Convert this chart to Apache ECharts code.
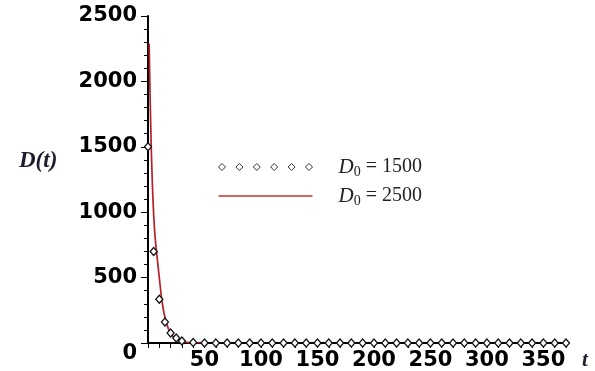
<!DOCTYPE html>
<html>
<head>
<meta charset="utf-8">
<script src="https://cdn.jsdelivr.net/npm/echarts@6/dist/echarts.min.js"></script>
<style>
  html, body { margin: 0; padding: 0; background: #fff; }
  #main { width: 595px; height: 371px; }
</style>
</head>
<body>
<div id="main"></div>
<script>
// D0 = 1500, point plot (diamonds)
var t1500 = [0, 5, 10, 15, 20, 25, 30, 40, 50, 60, 70, 80, 90, 100, 110, 120, 130, 140, 150, 160,
             170, 180, 190, 200, 210, 220, 230, 240, 250, 260, 270, 280, 290, 300, 310, 320, 330,
             340, 350, 360, 370];
var d1500 = [1500, 700, 335, 160, 76, 38, 15, 3, 0, 0, 0, 0, 0, 0, 0, 0, 0, 0, 0, 0,
             0, 0, 0, 0, 0, 0, 0, 0, 0, 0, 0, 0, 0, 0, 0, 0, 0,
             0, 0, 0, 0];

// D0 = 2500, line
var t2500 = [1, 2, 3, 4, 5, 6, 7, 8, 10, 12, 14, 16, 18, 20, 22, 25, 30, 35, 40, 50];
var d2500 = [2290, 1820, 1450, 1180, 980, 840, 740, 660, 500, 340, 235, 160, 110, 75, 52, 30, 12, 5, 2, 0];

var yTicks = [0, 500, 1000, 1500, 2000, 2500];

function pairs(xs, ys) {
    var out = [];
    for (var i = 0; i < xs.length; i++) {
        out.push([xs[i], ys[i]]);
    }
    return out;
}

var labelFont = {
    fontFamily: 'DejaVu Sans',
    fontWeight: 'bold',
    fontSize: 21,
    color: '#000'
};

// six small diamonds for the point-series legend icon
var diamondsIcon = 'path://' +
    'M0,3.5L3.5,0L7,3.5L3.5,7Z' +
    'M17.4,3.5L20.9,0L24.4,3.5L20.9,7Z' +
    'M34.8,3.5L38.3,0L41.8,3.5L38.3,7Z' +
    'M52.2,3.5L55.7,0L59.2,3.5L55.7,7Z' +
    'M69.6,3.5L73.1,0L76.6,3.5L73.1,7Z' +
    'M87,3.5L90.5,0L94,3.5L90.5,7Z';
var lineIcon = 'path://M0,0L86,0L86,1.6L0,1.6Z';

var legendRich = {
    gap: { width: 21 },
    d: { fontFamily: 'Liberation Serif', fontStyle: 'italic', fontSize: 21, color: '#222', lineHeight: 24 },
    s: { fontFamily: 'Liberation Serif', fontSize: 14, color: '#222', lineHeight: 24, padding: [10, 0, 0, 0] },
    e: { fontFamily: 'Liberation Serif', fontSize: 20, color: '#222', lineHeight: 24 }
};

var option = {
    animation: false,
    backgroundColor: '#fff',
    grid: { left: 148, right: 29, top: 16, bottom: 27 },
    xAxis: {
        type: 'value',
        min: 0,
        max: 370,
        interval: 50,
        axisLine: { lineStyle: { color: '#000', width: 2 } },
        axisTick: { show: true, length: 5, lineStyle: { color: '#000' } },
        minorTick: { show: true, splitNumber: 5, length: 5, lineStyle: { color: '#000' } },
        splitLine: { show: false },
        axisLabel: Object.assign({
            margin: 7,
            showMaxLabel: false,
            formatter: function (v) {
                return (v === 0 || v % 50 !== 0) ? '' : String(v);
            }
        }, labelFont)
    },
    yAxis: {
        type: 'value',
        min: 0,
        max: 2500,
        interval: 500,
        axisLine: { show: true, lineStyle: { color: '#000', width: 2 } },
        axisTick: { show: true, length: 7, lineStyle: { color: '#000' } },
        minorTick: { show: true, splitNumber: 5, length: 4, lineStyle: { color: '#000' } },
        splitLine: { show: false },
        axisLabel: Object.assign({
            margin: 11,
            formatter: function (v) {
                return v === 0 ? '{lo|0}' : String(v);
            },
            rich: {
                lo: Object.assign({ padding: [22, 0, 0, 0] }, labelFont)
            }
        }, labelFont)
    },
    legend: {
        orient: 'vertical',
        left: 213,
        top: 150,
        itemWidth: 94,
        itemHeight: 8,
        itemGap: 5,
        selectedMode: false,
        data: [
            { name: 'D0=1500', icon: diamondsIcon,
              itemStyle: { color: '#fff', borderColor: '#333', borderWidth: 1 } },
            { name: 'D0=2500', icon: lineIcon,
              itemStyle: { color: '#c0392b', borderWidth: 0 } }
        ],
        formatter: function (name) {
            var v = name.split('=')[1];
            return '{gap|}{d|D}{s|0}{e| = ' + v + '}';
        },
        textStyle: { rich: legendRich }
    },
    graphic: [
        {
            type: 'text',
            left: 19,
            top: 150,
            style: {
                text: 'D(t)',
                font: 'italic bold 23px "Liberation Serif"',
                fill: '#1c1c2c'
            }
        },
        {
            type: 'text',
            left: 582,
            top: 350,
            style: {
                text: 't',
                font: 'italic bold 21px "Liberation Serif"',
                fill: '#1c1c2c'
            }
        }
    ],
    series: [
        {
            name: 'D0=2500',
            type: 'line',
            data: pairs(t2500, d2500),
            showSymbol: false,
            symbol: 'none',
            z: 2,
            lineStyle: { color: '#b5202a', width: 1.7 },
            itemStyle: { color: '#b5202a' }
        },
        {
            name: 'D0=1500',
            type: 'line',
            data: pairs(t1500, d1500),
            symbol: 'diamond',
            symbolSize: [7, 8],
            showAllSymbol: true,
            z: 3,
            lineStyle: { opacity: 0 },
            itemStyle: { color: '#fff', borderColor: '#111', borderWidth: 1.3 }
        }
    ]
};

var myChart = echarts.init(document.getElementById('main'));
myChart.setOption(option);
</script>
</body>
</html>
